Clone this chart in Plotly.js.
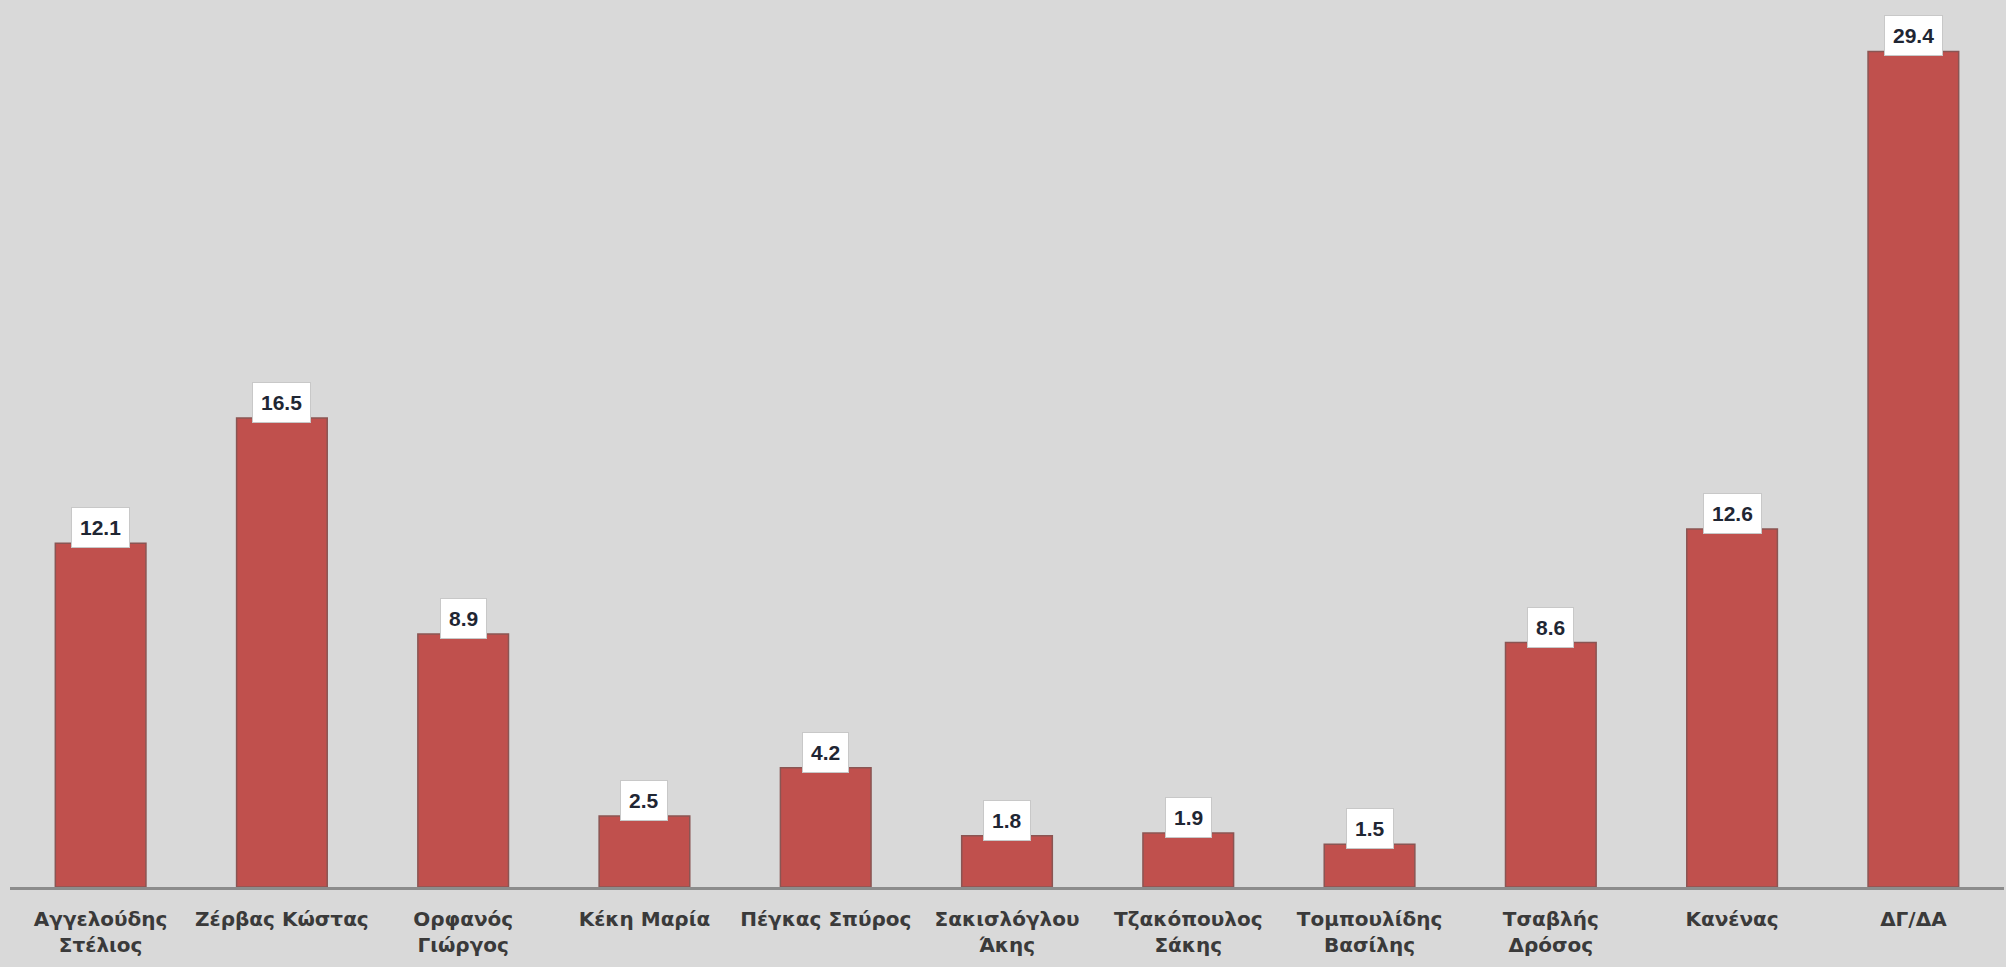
<!DOCTYPE html>
<html>
<head>
<meta charset="utf-8">
<script src="https://cdn.plot.ly/plotly-3.0.1.min.js"></script>
<style>
html,body{margin:0;padding:0;background:#D9D9D9;}
#chart{width:2006px;height:967px;}
</style>
</head>
<body>
<div id="chart"></div>
<script>
var categories = [
  "Αγγελούδης<br>Στέλιος",
  "Ζέρβας Κώστας",
  "Ορφανός<br>Γιώργος",
  "Κέκη Μαρία",
  "Πέγκας Σπύρος",
  "Σακισλόγλου<br>Άκης",
  "Τζακόπουλος<br>Σάκης",
  "Τομπουλίδης<br>Βασίλης",
  "Τσαβλής<br>Δρόσος",
  "Κανένας",
  "ΔΓ/ΔΑ"
];
var values = [12.1, 16.5, 8.9, 2.5, 4.2, 1.8, 1.9, 1.5, 8.6, 12.6, 29.4];
var valueLabels = ["12.1", "16.5", "8.9", "2.5", "4.2", "1.8", "1.9", "1.5", "8.6", "12.6", "29.4"];

var trace = {
  type: "bar",
  x: categories,
  y: values,
  marker: {color: "#C0504D", line: {color: "#8a5553", width: 1.5}},
  hoverinfo: "skip"
};

var annotations = categories.map(function (c, i) {
  return {
    x: c, y: values[i], xref: "x", yref: "y",
    text: valueLabels[i],
    showarrow: false,
    yanchor: "bottom",
    yshift: -5,
    bgcolor: "#FFFFFF",
    bordercolor: "#C8C8C8",
    borderwidth: 1,
    borderpad: 8,
    font: {family: "Liberation Sans, Arial, sans-serif", size: 21, color: "#1f2633", weight: "bold"}
  };
});

var layout = {
  width: 2006,
  height: 967,
  margin: {l: 10, r: 2, t: 6, b: 80},
  paper_bgcolor: "#D9D9D9",
  plot_bgcolor: "#D9D9D9",
  showlegend: false,
  bargap: 0.5,
  xaxis: {
    type: "category",
    showline: true,
    linecolor: "#8C8C8C",
    linewidth: 3,
    ticks: "",
    ticklabelstandoff: 12,
    showgrid: false,
    zeroline: false,
    tickangle: 0,
    tickfont: {family: "DejaVu Sans, sans-serif", size: 20, color: "#3a3a3a", weight: "bold"}
  },
  yaxis: {
    range: [0, 31],
    visible: false,
    showgrid: false,
    zeroline: false
  },
  annotations: annotations
};

Plotly.newPlot("chart", [trace], layout, {displayModeBar: false, staticPlot: true});
</script>
</body>
</html>
